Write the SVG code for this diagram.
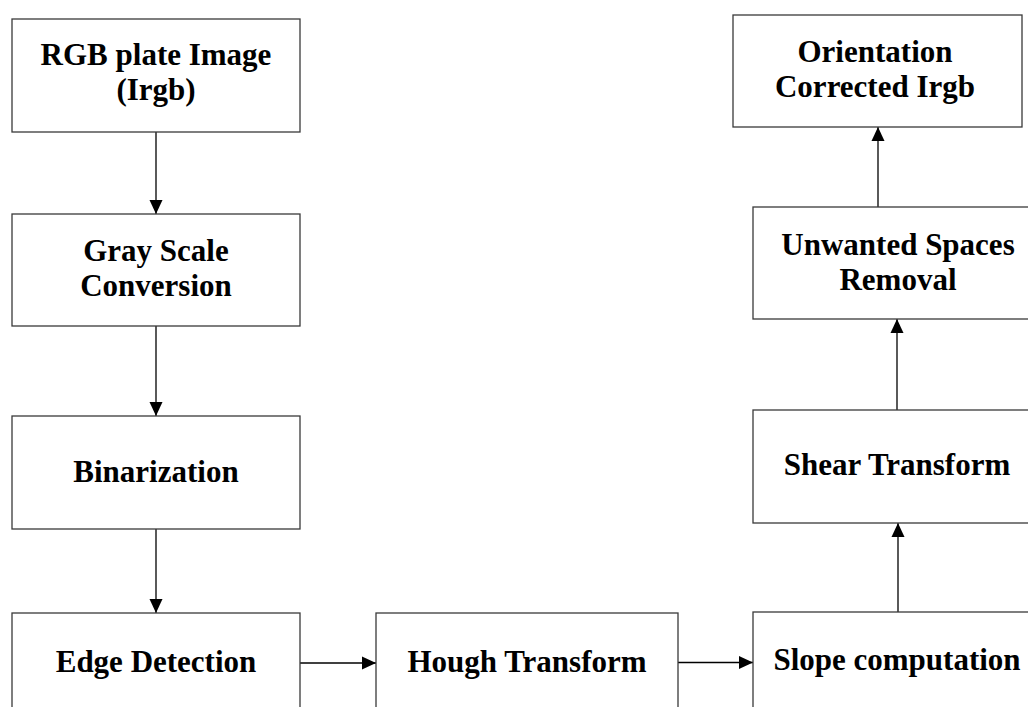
<svg xmlns="http://www.w3.org/2000/svg" width="1028" height="707" viewBox="0 0 1028 707">
  <style>
    .box { fill: #ffffff; stroke: #3a3a3a; stroke-width: 1.3; }
    .lbl { font-family: "Liberation Serif", "Times New Roman", serif; font-weight: bold; font-size: 31px; fill: #000000; text-anchor: middle; }
    .conn { stroke: #000000; stroke-width: 1.3; fill: none; marker-end: url(#arrow); }
  </style>
  <defs>
    <marker id="arrow" viewBox="0 0 14 14" refX="14" refY="7" markerWidth="14" markerHeight="14" markerUnits="userSpaceOnUse" orient="auto">
      <path d="M0,0.5 L14,7 L0,13.5 z" fill="#000000"/>
    </marker>
  </defs>
  <rect width="1028" height="707" fill="#ffffff"/>

  <g id="connectors">
    <line class="conn" x1="156" y1="132" x2="156" y2="214"/>
    <line class="conn" x1="156" y1="326" x2="156" y2="416"/>
    <line class="conn" x1="156" y1="529" x2="156" y2="613"/>
    <line class="conn" x1="300" y1="663" x2="376" y2="663"/>
    <line class="conn" x1="678" y1="662.5" x2="753" y2="662.5"/>
    <line class="conn" x1="898" y1="612" x2="898" y2="523"/>
    <line class="conn" x1="897" y1="410" x2="897" y2="319"/>
    <line class="conn" x1="878" y1="207" x2="878" y2="127"/>
  </g>

  <g id="n-rgb">
    <rect class="box" x="12" y="19" width="288" height="113"/>
    <text class="lbl" x="156" y="64.5">RGB plate Image</text>
    <text class="lbl" x="156" y="99.5">(Irgb)</text>
  </g>
  <g id="n-gray">
    <rect class="box" x="12" y="214" width="288" height="112"/>
    <text class="lbl" x="156" y="261">Gray Scale</text>
    <text class="lbl" x="156" y="296">Conversion</text>
  </g>
  <g id="n-bin">
    <rect class="box" x="12" y="416" width="288" height="113"/>
    <text class="lbl" x="156" y="482">Binarization</text>
  </g>
  <g id="n-edge">
    <rect class="box" x="12" y="613" width="288" height="110"/>
    <text class="lbl" x="156" y="672">Edge Detection</text>
  </g>
  <g id="n-hough">
    <rect class="box" x="376" y="613" width="302" height="110"/>
    <text class="lbl" x="527" y="672">Hough Transform</text>
  </g>
  <g id="n-slope">
    <rect class="box" x="753" y="612" width="300" height="110"/>
    <text class="lbl" x="897" y="670">Slope computation</text>
  </g>
  <g id="n-shear">
    <rect class="box" x="753" y="410" width="300" height="113"/>
    <text class="lbl" x="897" y="475">Shear Transform</text>
  </g>
  <g id="n-unwanted">
    <rect class="box" x="753" y="207" width="300" height="112"/>
    <text class="lbl" x="898" y="255">Unwanted Spaces</text>
    <text class="lbl" x="898" y="290">Removal</text>
  </g>
  <g id="n-orient">
    <rect class="box" x="733" y="15" width="289" height="112"/>
    <text class="lbl" x="875" y="62">Orientation</text>
    <text class="lbl" x="875" y="97">Corrected Irgb</text>
  </g>
</svg>
